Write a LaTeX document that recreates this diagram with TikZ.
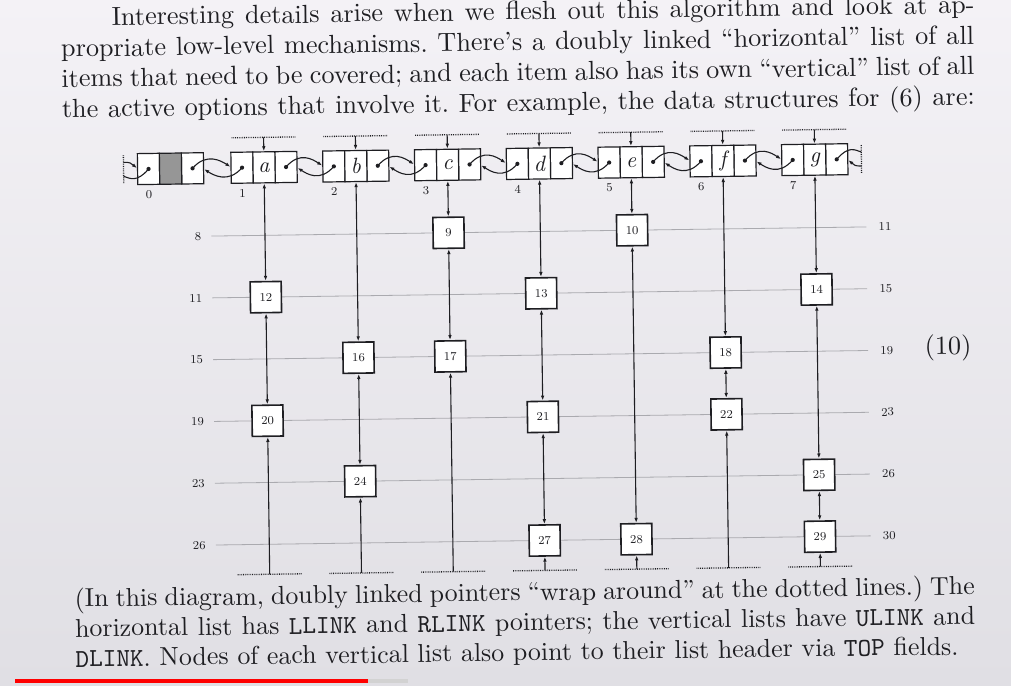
\documentclass[tikz,border=0pt]{standalone}
\usetikzlibrary{arrows.meta}
\DeclareFontFamily{TU}{lmrten}{}
\DeclareFontShape{TU}{lmrten}{m}{n}{<-> "[lmroman10-regular]:mapping=tex-text;"}{}
\DeclareFontShape{TU}{lmrten}{m}{it}{<-> "[lmroman10-italic]:mapping=tex-text;"}{}
\DeclareFontFamily{TU}{lmtten}{\hyphenchar\font=-1 }
\DeclareFontShape{TU}{lmtten}{m}{n}{<-> "[lmmono10-regular]:mapping=tex-text;"}{}
\DeclareFontFamily{TU}{lmreight}{}
\DeclareFontShape{TU}{lmreight}{m}{n}{<-> "[lmroman8-regular]:mapping=tex-text;"}{}
\renewcommand{\ttdefault}{lmtten}
\definecolor{ink}{RGB}{30,30,34}
\definecolor{rowgray}{RGB}{170,170,175}
\definecolor{cellgray}{RGB}{150,150,150}
\definecolor{bgtop}{RGB}{244,242,246}
\definecolor{bgbot}{RGB}{224,223,228}
\newcommand{\kbtop}{\fontencoding{TU}\fontfamily{lmrten}\fontsize{26.2}{31}\selectfont}
\newcommand{\kbbot}{\fontencoding{TU}\fontfamily{lmrten}\fontsize{25.9}{31}\selectfont}
\newcommand{\kbnum}{\fontencoding{TU}\fontfamily{lmreight}\fontsize{12}{12}\selectfont}
\newcommand{\kbit}{\fontencoding{TU}\fontfamily{lmrten}\fontshape{it}\fontsize{22}{22}\selectfont}
% justified lines, one node per word; widths measured here in the preamble
\makeatletter
\newlength\jl@tot \newlength\jl@tmp \newlength\jl@x \newlength\jl@sp
\newcount\jl@n \newcount\jl@k \newtoks\jl@acc
\def\jl@stoparg{@@}
\def\jl@measure#1 {\def\jl@arg{#1}\ifx\jl@arg\jl@stoparg\else
  \settowidth\jl@tmp{\jl@font #1}\global\advance\jl@tot\jl@tmp
  \global\advance\jl@n 1 \expandafter\jl@measure\fi}
\def\jl@build#1 {\def\jl@arg{#1}\ifx\jl@arg\jl@stoparg\else
  \edef\jl@xn{\strip@pt\jl@x}%
  \edef\jl@tmpa{\the\jl@acc\noexpand\jl@put{\jl@xn}}%
  \global\jl@acc=\expandafter{\jl@tmpa{#1}}%
  \settowidth\jl@tmp{\jl@font #1}\global\advance\jl@x\jl@tmp
  \global\advance\jl@x\jl@sp \expandafter\jl@build\fi}
\newcommand\jprep[4]{\def\jl@font{#2}%
  \global\jl@tot=0pt \global\jl@n=0
  \jl@measure #4 @@ %
  \global\jl@sp=#3pt \global\advance\jl@sp-\jl@tot
  \count@=\jl@n \advance\count@ -1 \global\divide\jl@sp\count@
  \global\jl@acc={}\global\jl@x=0pt
  \jl@build #4 @@ %
  \expandafter\xdef\csname jl@list@#1\endcsname{\the\jl@acc}}
\def\jl@put#1#2{\pgfmathsetmacro\jl@xx{\jl@bx+#1}\global\advance\jl@k 1 \edef\jl@nm{jw\the\jl@k}%
  \ifodd\jl@k\def\jl@rot{0.25}\else\def\jl@rot{-0.25}\fi
  \node[anchor=base west,inner sep=0pt,text=ink,font=\jl@font,rotate=\jl@rot] (\jl@nm) at (\jl@xx,\jl@y) {#2};}
\newcommand\jline[4]{\def\jl@font{#2}\def\jl@bx{#3}\def\jl@y{#4}\csname jl@list@#1\endcsname}
\makeatother
\jprep{t1}{\kbtop}{863}{Interesting details arise when we flesh out this algorithm and look at ap-}
\jprep{t2}{\kbtop}{913}{propriate low-level mechanisms. There’s a doubly linked “horizontal” list of all}
\jprep{t3}{\kbtop}{913}{items that need to be covered; and each item also has its own “vertical” list of all}
\jprep{t4}{\kbtop}{913}{the active options that involve it. For example, the data structures for (6) are:}
\jprep{b1}{\kbbot}{900}{(In this diagram, doubly linked pointers “wrap around” at the dotted lines.) The}
\jprep{b2}{\kbbot}{900}{horizontal list has \texttt{LLINK} and \texttt{RLINK} pointers; the vertical lists have \texttt{ULINK} and}
\jprep{b3}{\kbbot}{883}{\texttt{DLINK}. Nodes of each vertical list also point to their list header via \texttt{TOP} fields.}
\begin{document}
\begin{tikzpicture}[x=1pt,y=-1pt,
  >={Latex[length=5pt,width=3.6pt]},
  hcell/.style={draw=ink,line width=1.2pt,minimum width=22pt,minimum height=31pt,inner sep=0pt,fill=white,text=ink,font=\kbit},
  vbox/.style={draw=ink,line width=1.6pt,minimum size=31pt,inner sep=0pt,fill=white,text=ink,font=\kbnum},
  idx/.style={text=ink,inner sep=0pt,font=\kbnum},
  rowlbl/.style={text=ink,inner sep=0pt,font=\kbnum},
  rowline/.style={draw=rowgray,line width=0.8pt},
  dotl/.style={draw=ink,line width=1.3pt,dash pattern=on 0.8pt off 1pt},
  vlink/.style={draw=ink,line width=1.1pt,<->},
  onearr/.style={draw=ink,line width=1.1pt,->},
  hlink/.style={draw=ink,line width=1.1pt,->},
  plainl/.style={draw=ink,line width=1.1pt},
]
\fill[top color=bgtop,bottom color=bgbot] (0,0) rectangle (1011,685);
\useasboundingbox (0,0) rectangle (1011,685);
\begin{scope}[rotate around={0.8:(505,342)},transform shape]
% top paragraph
\jline{t1}{\kbtop}{116}{20}
\jline{t2}{\kbtop}{65}{50.5}
\jline{t3}{\kbtop}{65}{81}
\jline{t4}{\kbtop}{65}{111.5}
% row lines and labels
\foreach \r/\ya/\lb/\rb in {1/232/8/11,2/293.8/11/15,3/355.6/15/19,4/417.4/19/23,5/479.2/23/26,6/541/26/30}{
  \node[rowlbl,anchor=east] (ll\r) at (203,\ya) {\lb};
  \node[rowlbl,anchor=west] (rl\r) at (880,\ya) {\rb};
  \draw[rowline] ([xshift=10pt]ll\r.east) -- ([xshift=-12pt]rl\r.west);
}
% header cells
\foreach \k/\cx in {0/173,1/266.5,2/358.3,3/450.1,4/541.9,5/633.7,6/725.5,7/817.3}{
  \node[hcell] (L\k) at (\cx-22,164) {};
  \node[hcell] (R\k) at (\cx+22,164) {};
  \node[idx] (i\k) at (\cx-22,189.5) {\k};
}
\node[hcell,fill=cellgray] (M0) at (173,164) {};
\foreach \k/\cx/\l in {1/266.5/a,2/358.3/b,3/450.1/c,4/541.9/d,5/633.7/e,6/725.5/f,7/817.3/g}{
  \node[hcell] (M\k) at (\cx,164) {\l};
  \coordinate (t\k) at (\cx,134);
  \coordinate (b\k) at (\cx,571);
  \draw[dotl] ([xshift=-32pt]t\k) -- ([xshift=32pt]t\k);
  \draw[dotl] ([xshift=-32pt]b\k) -- ([xshift=32pt]b\k);
  \draw[onearr] (t\k) -- (M\k.north);
}
\foreach \k in {0,...,7}{
  \fill[ink] (L\k.center) circle (2.1pt);
  \fill[ink] (R\k.center) circle (2.1pt);
}
% horizontal links
\foreach \k [count=\n from 1] in {0,...,6}{
  \draw[hlink] (R\k.center) .. controls +(14,-16) and +(-9,-6) .. ([yshift=1pt]L\n.west);
  \draw[hlink] (L\n.center) .. controls +(-14,16) and +(9,6) .. ([yshift=-1pt]R\k.east);
}
% wrap-around at left and right
\coordinate (wlt) at (126,150); \coordinate (wlb) at (126,178);
\coordinate (wlu) at (126,157); \coordinate (wll) at (126,171);
\draw[dotl] (wlt) -- (wlb);
\draw[plainl] (L0.center) .. controls +(-12,14) and +(6,2) .. (wll);
\draw[hlink] (wlu) .. controls +(7,0) and +(-6,-5) .. ([yshift=1pt]L0.west);
\coordinate (wrt) at (864,150); \coordinate (wrb) at (864,178);
\coordinate (wru) at (864,157); \coordinate (wrl) at (864,171);
\draw[dotl] (wrt) -- (wrb);
\draw[plainl] (R7.center) .. controls +(12,-14) and +(-6,-2) .. (wru);
\draw[hlink] (wrl) .. controls +(-7,0) and +(6,5) .. ([yshift=-1pt]R7.east);
% vertical list nodes
\node[vbox] (n9) at (450.1,232) {9};
\node[vbox] (n10) at (633.7,232) {10};
\node[vbox] (n12) at (266.5,293.8) {12};
\node[vbox] (n13) at (541.9,293.8) {13};
\node[vbox] (n14) at (817.3,293.8) {14};
\node[vbox] (n16) at (358.3,355.6) {16};
\node[vbox] (n17) at (450.1,355.6) {17};
\node[vbox] (n18) at (725.5,355.6) {18};
\node[vbox] (n20) at (266.5,417.4) {20};
\node[vbox] (n21) at (541.9,417.4) {21};
\node[vbox] (n22) at (725.5,417.4) {22};
\node[vbox] (n24) at (358.3,479.2) {24};
\node[vbox] (n25) at (817.3,479.2) {25};
\node[vbox] (n27) at (541.9,541) {27};
\node[vbox] (n28) at (633.7,541) {28};
\node[vbox] (n29) at (817.3,541) {29};
% vertical links
\draw[vlink] (M1.south) -- (n12.north);
\draw[vlink] (n12.south) -- (n20.north);
\draw[onearr] (b1) -- (n20.south);
\draw[vlink] (M2.south) -- (n16.north);
\draw[vlink] (n16.south) -- (n24.north);
\draw[onearr] (b2) -- (n24.south);
\draw[vlink] (M3.south) -- (n9.north);
\draw[vlink] (n9.south) -- (n17.north);
\draw[onearr] (b3) -- (n17.south);
\draw[vlink] (M4.south) -- (n13.north);
\draw[vlink] (n13.south) -- (n21.north);
\draw[vlink] (n21.south) -- (n27.north);
\draw[onearr] (b4) -- (n27.south);
\draw[vlink] (M5.south) -- (n10.north);
\draw[vlink] (n10.south) -- (n28.north);
\draw[onearr] (b5) -- (n28.south);
\draw[vlink] (M6.south) -- (n18.north);
\draw[vlink] (n18.south) -- (n22.north);
\draw[onearr] (b6) -- (n22.south);
\draw[vlink] (M7.south) -- (n14.north);
\draw[vlink] (n14.south) -- (n25.north);
\draw[vlink] (n25.south) -- (n29.north);
\draw[onearr] (b7) -- (n29.south);
% equation number
\node[text=ink,font=\kbtop] (eq) at (948,354) {(10)};
% bottom paragraph
\jline{b1}{\kbbot}{71}{601}
\jline{b2}{\kbbot}{71}{631}
\jline{b3}{\kbbot}{71}{661}
\end{scope}
% video progress bar
\fill[red] (15,679) rectangle (368,683);
\fill[gray!35] (368,679) rectangle (408,683);
\end{tikzpicture}
\end{document}
